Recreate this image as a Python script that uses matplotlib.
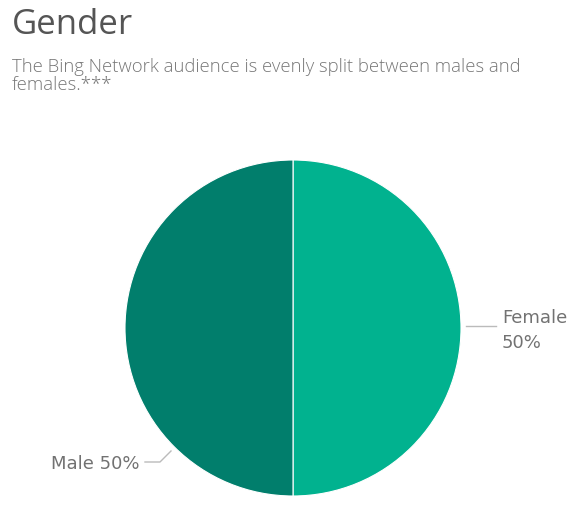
import matplotlib
matplotlib.use("Agg")
import matplotlib.pyplot as plt

categories = ["Female", "Male"]
values = [50, 50]
colors = ["#01B28F", "#017E6C"]

title = "Gender"
subtitle = "The Bing Network audience is evenly split between males and\nfemales.***"

fig = plt.figure(figsize=(5.88, 5.31), dpi=100)
fig.patch.set_facecolor("white")

fig.text(12/588, 1 - 25/531, title, fontsize=25, color="#555555",
         family=["Open Sans", "DejaVu Sans"], va="center", ha="left")
fig.text(12/588, 1 - 58/531, subtitle, fontsize=13.3, color="#777777",
         family=["Open Sans", "DejaVu Sans"], fontweight="light",
         va="top", ha="left", linespacing=1.0)

cx, cy, r = 293, 328, 168
ax = fig.add_axes([(cx - r)/588, (531 - cy - r)/531, 2*r/588, 2*r/531])
wedges, _ = ax.pie(values, colors=colors, startangle=90, counterclock=False,
                   wedgeprops=dict(linewidth=0.8, edgecolor="white"))
ax.set_xlim(-1, 1)
ax.set_ylim(-1, 1)
ax.set_aspect("auto")
ax.axis("off")

def fx(px):
    return (px - cx) / r
def fy(py):
    return (cy - py) / r

lc = "#BBBBBB"
lab_font = dict(fontsize=13, color="#727272", family=["DejaVu Sans"],
                fontweight="normal")
# Female label
ax.plot([fx(466), fx(496)], [fy(326), fy(326)], color=lc, lw=1, clip_on=False)
ax.text(fx(502), fy(318), f"{categories[0]}", ha="left", va="center", clip_on=False, **lab_font)
ax.text(fx(502), fy(343), f"{values[0]}%", ha="left", va="center", clip_on=False, **lab_font)
# Male label
ax.plot([fx(171), fx(160), fx(145)], [fy(451), fy(462), fy(462)], color=lc, lw=1, clip_on=False)
ax.text(fx(140), fy(464), f"{categories[1]} {values[1]}%", ha="right", va="center",
        clip_on=False, **lab_font)

fig.savefig("out.png", dpi=100, facecolor="white")
